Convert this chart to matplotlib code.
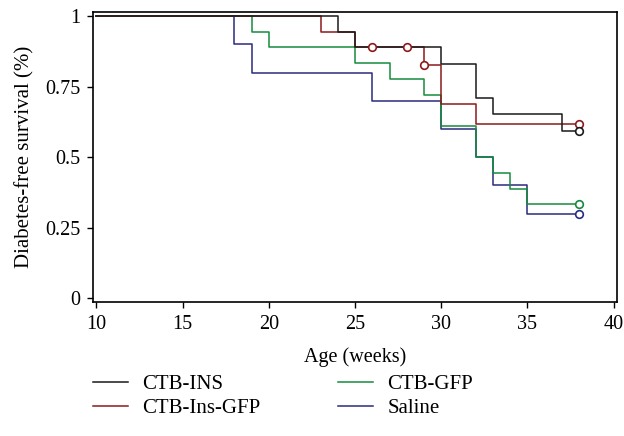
import matplotlib
matplotlib.use("Agg")
import matplotlib.pyplot as plt
from matplotlib.lines import Line2D

plt.rcParams['font.family'] = ['Liberation Serif', 'DejaVu Serif']

# Kaplan-Meier step data (event times and survival after each event)
ctb_ins_t = [10, 24, 25, 30, 32, 33, 37, 38]
ctb_ins_s = [1.0, 0.944, 0.889, 0.829, 0.711, 0.652, 0.593, 0.593]
ctb_ins_cens_t = [38]
ctb_ins_cens_s = [0.593]

ctb_insgfp_t = [10, 23, 25, 29, 30, 32, 38]
ctb_insgfp_s = [1.0, 0.944, 0.889, 0.825, 0.6875, 0.619, 0.619]
ctb_insgfp_cens_t = [26, 28, 29, 38]
ctb_insgfp_cens_s = [0.889, 0.889, 0.825, 0.619]

ctb_gfp_t = [10, 19, 20, 25, 27, 29, 30, 32, 33, 34, 35, 38]
ctb_gfp_s = [1.0, 0.944, 0.889, 0.833, 0.778, 0.722, 0.611, 0.5, 0.444, 0.389, 0.333, 0.333]
ctb_gfp_cens_t = [38]
ctb_gfp_cens_s = [0.333]

saline_t = [10, 18, 19, 26, 30, 32, 33, 35, 38]
saline_s = [1.0, 0.9, 0.8, 0.7, 0.6, 0.5, 0.4, 0.3, 0.3]
saline_cens_t = [38]
saline_cens_s = [0.3]

labels = ["CTB-INS", "CTB-Ins-GFP", "CTB-GFP", "Saline"]
colors = ["#1a1a1a", "#8b1a1a", "#168a3c", "#2b2b80"]

x_ticks = [10, 15, 20, 25, 30, 35, 40]
y_ticks = [0, 0.25, 0.5, 0.75, 1]
y_ticklabels = ["0", "0.25", "0.5", "0.75", "1"]

fig = plt.figure(figsize=(6.24, 4.36), dpi=100)
ax = fig.add_axes([0.149, 0.307, 0.84, 0.666])

series = [
    (saline_t, saline_s, saline_cens_t, saline_cens_s, colors[3]),
    (ctb_gfp_t, ctb_gfp_s, ctb_gfp_cens_t, ctb_gfp_cens_s, colors[2]),
    (ctb_insgfp_t, ctb_insgfp_s, ctb_insgfp_cens_t, ctb_insgfp_cens_s, colors[1]),
    (ctb_ins_t, ctb_ins_s, ctb_ins_cens_t, ctb_ins_cens_s, colors[0]),
]
for t, s, ct, cs, c in series:
    ax.step(t, s, where='post', color=c, lw=1.1, zorder=2)
    ax.plot(ct, cs, 'o', mfc='white', mec=c, mew=1.2, ms=5.5, zorder=3)

ax.set_xlim(9.8, 40.2)
ax.set_ylim(-0.013, 1.015)
ax.set_xticks(x_ticks)
ax.set_yticks(y_ticks)
ax.set_yticklabels(y_ticklabels)
ax.tick_params(direction='out', length=4, width=1, labelsize=14.5, pad=5)
for sp in ax.spines.values():
    sp.set_linewidth(1.2)

ax.set_xlabel("Age (weeks)", fontsize=14.5, labelpad=10)
ax.set_ylabel("Diabetes-free survival (%)", fontsize=15, labelpad=8)

handles = [Line2D([], [], color=c, lw=1.1) for c in colors]
fig.legend(handles, labels, loc='upper left', bbox_to_anchor=(0.119, 0.184),
           ncol=2, frameon=False, fontsize=15, handlelength=1.68,
           handletextpad=0.67, columnspacing=3.75, labelspacing=0.2)

fig.savefig("out.png", dpi=100)
